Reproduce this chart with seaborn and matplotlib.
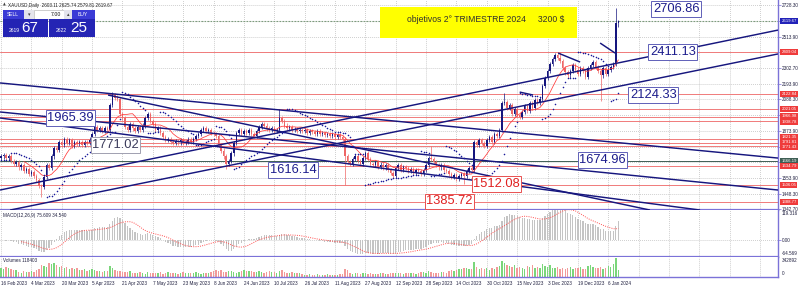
import numpy as np
import pandas as pd
import matplotlib
matplotlib.use("Agg")
import matplotlib.pyplot as plt
import matplotlib.transforms as mtransforms
from matplotlib.patches import Rectangle
import seaborn as sns

# ---------------- data ----------------
closes = [
    1700, 1712, 1690, 1705, 1668,
    1650, 1660, 1625, 1640, 1600, 1615, 1580, 1595,
    1570, 1540, 1500, 1490,
    1560, 1640,
    1620, 1700, 1760, 1745,
    1800, 1780, 1820, 1790, 1810, 1770, 1800, 1785,
    1795, 1775, 1800, 1790, 1815,
    1850, 1900, 1880, 1895,
    1870, 1890, 1880,
    2050, 2120,
    2100, 2090,
    1990,
    1960, 1900, 1880, 1920, 1890, 1870, 1900, 1880,
    1910, 1960, 1990, 1940, 1920, 1880, 1890, 1860,
    1830, 1810, 1820, 1800, 1790, 1805, 1795, 1810, 1790, 1800, 1815, 1800, 1820, 1840, 1850, 1880,
    1890, 1870, 1880, 1860, 1850, 1840,
    1780, 1740, 1700, 1650, 1670,
    1720, 1790, 1860, 1880,
    1850, 1870, 1860, 1880, 1850, 1840, 1870,
    1900, 1920, 1910, 1890,
    1880, 1895, 1870, 1880,
    1960, 1940,
    1910, 1890, 1900, 1880, 1885, 1870, 1880,
    1875, 1880, 1860, 1870, 1865, 1855, 1870, 1850, 1860, 1845, 1850, 1840, 1850, 1835, 1845, 1830, 1820,
    1700, 1660,
    1650, 1680, 1700, 1670, 1650, 1690, 1720, 1680, 1650, 1640, 1660, 1630, 1645, 1625, 1640, 1610, 1590, 1570,
    1620, 1640, 1610, 1630, 1620, 1600, 1615, 1590, 1605, 1600, 1580, 1610, 1640,
    1690, 1680, 1660,
    1640, 1625, 1640, 1610, 1600,
    1580, 1560, 1575, 1550, 1565, 1580, 1570, 1600,
    1620, 1610,
    1800,
    1780, 1810, 1790, 1770, 1810, 1830, 1800, 1850, 1840, 1880,
    2060, 2070,
    2030, 2050, 1990, 2020, 1980, 1970, 2000,
    2040, 2010, 2060, 2030, 2080, 2060, 2090, 2180,
    2230, 2280, 2330, 2360,
    2390, 2370, 2350,
    2300, 2270, 2250, 2280,
    2320, 2290, 2260, 2300, 2280, 2240, 2300, 2320,
    2340, 2310,
    2280, 2250, 2300, 2260, 2290, 2310,
    2330,
    2603.11,
    2619.67,
]
first_open = 1690.0
wick_default = 14.0
high_override = {44: 2135, 110: 2025, 170: 1770, 199: 2130, 221: 2411.13,
                 243: 2706.86, 244: 2625.74}
low_override = {16: 1425, 89: 1616.14, 136: 1506, 183: 1512.08, 237: 2075,
                244: 2579.81}

volumes_k = [
    170, 150, 180, 160, 140, 120, 130,
    90, 80, 100, 85, 95, 110, 90, 120, 140,
    220, 200, 180, 250, 230, 260, 210, 190,
    200, 170, 190, 150, 160, 140, 170, 130,
    120, 140, 110, 130, 150, 120, 100, 110,
    90, 110, 100, 200, 160, 130, 110, 100, 90, 95, 85, 100,
    70, 80, 65, 90, 75, 60, 85, 70, 80, 65, 75, 90, 60, 70, 85, 65, 80, 70, 60, 75, 90, 70, 65, 80, 75, 85, 70, 60,
    80, 75, 70, 90, 110, 120, 100, 130, 95, 85, 110, 100, 90, 80, 95, 105,
    120, 110, 100, 115, 95, 90, 100, 85, 80, 90, 110, 95, 85, 80, 100, 120, 90, 80, 75, 85, 70, 80, 75,
    50, 45, 40, 55, 45, 40, 50, 35, 45, 40, 50, 45, 40, 35, 45, 50, 60,
    150, 120,
    80, 60, 75, 70, 55, 65, 80, 60, 70, 55, 60, 50, 65, 70, 55, 60, 75, 80,
    70, 65, 75, 60, 80, 70, 65, 75, 60, 70, 85, 90, 80, 110, 95, 80, 75, 70, 85, 90, 80,
    100, 120, 110, 130, 150, 140, 160, 170, 150, 140,
    270,
    180, 150, 160, 140, 170, 130, 160, 150, 180, 200,
    290, 260,
    220, 200, 180, 210, 160, 190, 170, 150, 200, 180, 210, 170, 190, 160, 230,
    200, 190, 210, 170, 160, 180, 150, 170, 140, 160, 180,
    150, 170, 160, 190, 140, 150, 200, 210, 180, 170, 160, 190, 150, 170, 200, 180,
    230, 342.892, 118.403,
]

date_labels = ["16 Feb 2023", "4 Mar 2023", "20 Mar 2023", "5 Apr 2023", "21 Apr 2023",
               "7 May 2023", "23 May 2023", "8 Jun 2023", "24 Jun 2023", "10 Jul 2023",
               "26 Jul 2023", "11 Aug 2023", "27 Aug 2023", "12 Sep 2023", "28 Sep 2023",
               "14 Oct 2023", "30 Oct 2023", "15 Nov 2023", "3 Dec 2023", "19 Dec 2023",
               "6 Jan 2024"]

price_grid = [2728.30, 2621.10, 2513.90, 2408.30, 2302.70, 2193.90, 2088.30, 1981.10,
              1873.90, 1767.20, 1660.50, 1553.90, 1448.30, 1342.70]
price_grid_labels = ["2728.30", "", "2513.90", "", "2302.70", "2193.90", "2088.30", "",
                     "1873.90", "", "", "1553.90", "1448.30", "1342.70"]

level_prices = [2409.04, 2122.84, 2021.05, 1966.98, 1938.78, 1821.35, 1791.81, 1771.43,
                1666.19, 1634.79, 1506.05, 1388.77]
level_kinds = ["r", "r", "r", "r", "r", "r", "r", "r", "g", "r", "r", "r"]
# where each right-hand tag sits (nudged apart where the levels crowd)
level_tag_prices = [2409.04, 2122.84, 2021.05, 1972.0, 1934.0, 1830.0, 1797.0, 1764.0,
                    1666.19, 1634.79, 1506.05, 1388.77]
current_price = 2619.67

# trend lines: (bar0, price0, bar1, price1)
trend_lines = [
    (-0.4, 1472, 307.1, 2558),
    (3.6, 1336, 307.1, 2396),
    (-0.4, 2199, 307.1, 1689),
    (-0.4, 2002, 307.1, 1472),
    (42.3, 2117, 256.5, 1336),
    (-0.4, 1961, 276.3, 1336),
    (220.2, 2402, 228.9, 2341),
    (236.8, 2470, 242.7, 2402),
    (205.0, 2137, 210.3, 2117),
]

price_labels = ["2706.86", "2411.13", "2124.33", "1965.39", "1771.02", "1616.14",
                "1674.96", "1512.08", "1385.72"]
price_label_bar = [257.7, 256.5, 248.6, 18.2, 36.0, 106.3, 228.5, 186.6, 168.0]
price_label_price = [2701, 2409, 2117, 1961, 1778, 1608, 1676, 1513, 1397]
price_label_kind = ["b", "b", "b", "b", "k", "b", "b", "r", "r"]

target_box = (149.8, 227.7, 2504.2, 2714.7)   # bar0, bar1, price0, price1
target_text_pos = (160.5, 2633.2)
target_text = "objetivos 2° TRIMESTRE 2024     3200 $"

macd_top, macd_bottom = 119.316, -64.569
vol_top = 342892

# ---------------- derived series ----------------
n = len(closes)
bars = np.arange(n)
c = np.array(closes, dtype=float)
o = np.concatenate([[first_open], c[:-1]])
h = np.maximum(o, c) + wick_default
l = np.minimum(o, c) - wick_default
for k, v in high_override.items():
    h[k] = v
for k, v in low_override.items():
    l[k] = v
up = c >= o

ma = pd.Series(c).rolling(10).mean().values

def psar(high, low, af0=0.02, afmax=0.2):
    m = len(high)
    s = np.zeros(m)
    bull = True
    af = af0
    ep = high[0]
    s[0] = low[0]
    for i in range(1, m):
        prev = s[i - 1]
        val = prev + af * (ep - prev)
        if bull:
            val = min(val, low[i - 1], low[max(i - 2, 0)])
            if low[i] < val:
                bull = False
                val = ep
                ep = low[i]
                af = af0
            elif high[i] > ep:
                ep = high[i]
                af = min(af + af0, afmax)
        else:
            val = max(val, high[i - 1], high[max(i - 2, 0)])
            if high[i] > val:
                bull = True
                val = ep
                ep = high[i]
                af = af0
            elif low[i] < ep:
                ep = low[i]
                af = min(af + af0, afmax)
        s[i] = val
    return s

sar = psar(h, l)
cs = pd.Series(c)
macd = (cs.ewm(span=12, adjust=False).mean() - cs.ewm(span=26, adjust=False).mean()).values
signal = pd.Series(macd).rolling(9).mean().values
vol = np.array(volumes_k[:n], dtype=float) * 1000

# ---------------- figure ----------------
sns.set_style("white")
plt.rcParams["font.family"] = ["Liberation Sans", "DejaVu Sans"]

W, H = 800, 288
fig = plt.figure(figsize=(8, 2.88), dpi=100, facecolor="white")
fx = lambda x: x / W
fy = lambda y: 1 - y / H

PURPLE = "#7b72d8"
NAVY = "#16167e"
GRID = "#b4b4b4"
TXT = "#202040"
RED_LINE = "#f07a7a"
RED_BOX = "#ef3b3b"

ax = fig.add_axes([0, fy(210), 778 / W, 210 / H])
axm = fig.add_axes([0, fy(257), 778 / W, 47 / H], sharex=ax)
axv = fig.add_axes([0, fy(277), 778 / W, 20 / H], sharex=ax)

for a in (ax, axm, axv):
    a.set_facecolor("white")
    for s in ("left", "top"):
        a.spines[s].set_visible(False)
    a.spines["right"].set_color(PURPLE)
    a.spines["right"].set_linewidth(1.0)
    a.spines["bottom"].set_color(PURPLE)
    a.spines["bottom"].set_linewidth(1.6)
    a.set_axisbelow(True)
    a.grid(axis="x", color=GRID, ls=(0, (1, 1.6)), lw=0.55)
axv.spines["bottom"].set_linewidth(1.0)

ax.set_xlim(-0.4, 307.1)
ax.set_xticks(np.arange(0, 307, 12))
ax.set_ylim(1336.35, 2762.25)

# main price axis (right)
ax.yaxis.tick_right()
ax.set_yticks(price_grid)
ax.set_yticklabels(price_grid_labels)
ax.tick_params(axis="y", length=2, width=0.5, pad=1, labelsize=3.3, color=PURPLE, labelcolor=TXT)
ax.grid(axis="y", color=GRID, ls=(0, (1, 1.6)), lw=0.55)
ax.tick_params(axis="x", bottom=False, labelbottom=False)
axm.tick_params(axis="x", bottom=False, labelbottom=False)

# level lines
for p, kd in zip(level_prices, level_kinds):
    col = RED_LINE if kd == "r" else "#3f5f55"
    ax.axhline(p, color=col, lw=0.7, zorder=1.5)
ax.axhline(current_price, color="#7d9c7d", lw=0.8, ls=(0, (1.5, 1.2)), zorder=1.5)

# candles
bear = "#ee6666"
ccol = np.where(up, NAVY, bear)
ax.vlines(bars, l, h, colors=ccol, lw=0.5, zorder=2)
body_lo = np.minimum(o, c)
body_h = np.maximum(np.abs(c - o), 2.0)
ax.bar(bars, body_h, bottom=body_lo, width=0.6, color=ccol, lw=0, zorder=2.1)

# moving average
sns.lineplot(x=bars, y=ma, ax=ax, color="#ff3a3a", lw=0.55, zorder=2.5, legend=False)

# parabolic SAR
sns.scatterplot(x=bars, y=sar, ax=ax, color="#1a1a9a", s=1.3, linewidth=0, zorder=3.5, legend=False)

# trend lines
for b0, p0, b1, p1 in trend_lines:
    ax.plot([b0, b1], [p0, p1], color=NAVY, lw=1.05, zorder=3, solid_capstyle="butt")

# target box
tb0, tb1, tp0, tp1 = target_box
ax.add_patch(Rectangle((tb0, tp0), tb1 - tb0, tp1 - tp0, fc="#ffff00", ec="none", zorder=4))
ax.text(target_text_pos[0], target_text_pos[1], target_text, fontsize=6.2, color="#303030",
        ha="left", va="center", zorder=5)

# price label objects
for txt, b, p, kd in zip(price_labels, price_label_bar, price_label_price, price_label_kind):
    if kd == "r":
        tc, ec = "#e02020", "#e85050"
    elif kd == "k":
        tc, ec = "#3a3a5a", "#a0a0b0"
    else:
        tc, ec = "#1c1c8c", "#6060b8"
    ax.text(b, p, txt, fontsize=9.3, color=tc, ha="left", va="center", zorder=6,
            bbox=dict(boxstyle="square,pad=0.12", fc="white", ec=ec, lw=0.7))

# right side coloured level tags
trans = mtransforms.blended_transform_factory(ax.transAxes, ax.transData)
for p, tp, kd in zip(level_prices, level_tag_prices, level_kinds):
    fc = RED_BOX if kd == "r" else "#3f5f55"
    ax.text(1.0045, tp, f"{p:.2f}", transform=trans, fontsize=3.1, color="white",
            ha="left", va="center", clip_on=False, zorder=7,
            bbox=dict(boxstyle="square,pad=0.25", fc=fc, ec="none"))
ax.text(1.0045, current_price, f"{current_price:.2f}", transform=trans, fontsize=3.1,
        color="white", ha="left", va="center", clip_on=False, zorder=7,
        bbox=dict(boxstyle="square,pad=0.25", fc="#2222b8", ec="none"))

# ---------------- MACD panel ----------------
axm.set_ylim(macd_bottom, macd_top)
axm.bar(bars, macd, width=0.5, color="#c4c4c4", lw=0, zorder=2)
sns.lineplot(x=bars, y=signal, ax=axm, color="#ff5050", lw=0.7, zorder=3, legend=False)
axm.lines[-1].set_linestyle((0, (1, 1.3)))
axm.yaxis.tick_right()
axm.set_yticks([0])
axm.set_yticklabels(["0.00"])
axm.tick_params(axis="y", length=2, width=0.5, pad=1, labelsize=3.3, color=PURPLE, labelcolor=TXT)
axm.grid(axis="y", color=GRID, ls=(0, (1, 1.6)), lw=0.55)
tm = axm.transAxes
axm.text(1.0045, 0.985, f"{macd_top:.3f}", transform=tm, fontsize=3.3, color=TXT, ha="left", va="top")
axm.text(1.0045, 0.03, f"{macd_bottom:.3f}", transform=tm, fontsize=3.3, color=TXT, ha="left", va="bottom")
axm.text(0.004, 0.93, "MACD(12,26,9) 75.609 34.540", transform=tm, fontsize=3.3, color=TXT,
         ha="left", va="top")

# ---------------- Volume panel ----------------
axv.set_ylim(0, vol_top * 1.06)
vcol = np.where(up, "#7bd67b", "#f29a9a")
axv.bar(bars, vol, width=0.55, color=vcol, lw=0, zorder=2)
axv.set_yticks([])
tv = axv.transAxes
axv.text(1.0045, 0.97, f"{vol_top}", transform=tv, fontsize=3.3, color=TXT, ha="left", va="top")
axv.text(1.0045, 0.05, "0", transform=tv, fontsize=3.3, color=TXT, ha="left", va="bottom")
axv.text(0.004, 0.93, "Volumes 118403", transform=tv, fontsize=3.3, color=TXT, ha="left", va="top")

ticks = np.arange(0, 307, 12)
axv.set_xticks(ticks)
axv.set_xticklabels(date_labels + [""] * (len(ticks) - len(date_labels)))
axv.tick_params(axis="x", length=2, width=0.5, pad=1, labelsize=3.3, color=PURPLE, labelcolor=TXT)
for lb in axv.get_xticklabels():
    lb.set_ha("left")

# ---------------- header / one-click panel ----------------
fig.text(fx(3), fy(5), "▲", fontsize=2.6, color="#404040", ha="left", va="center",
         family=["DejaVu Sans"])
fig.text(fx(8), fy(5), "XAUUSD,Daily  2603.11 2625.74 2579.81 2619.67", fontsize=3.3,
         color="#202020", ha="left", va="center")

def frect(x0, y0, x1, y1, fc, ec="none", lw=0):
    fig.add_artist(Rectangle((fx(x0), fy(y1)), (x1 - x0) / W, (y1 - y0) / H,
                             transform=fig.transFigure, fc=fc, ec=ec, lw=lw, zorder=5))

frect(3, 10, 24, 19, "#3b3bd6")
frect(24, 10, 34, 19, "#e4e4ec")
frect(34, 10, 64, 19, "white", ec="#a8a8a8", lw=0.4)
frect(64, 10, 72, 19, "#e4e4ec")
frect(72, 10, 95, 19, "#3b3bd6")
frect(3, 19, 48, 37, "#2424b4")
frect(49, 19, 95, 37, "#2424b4")

def ftext(x, y, s, size, col, ha="left", fam=None):
    kw = {}
    if fam:
        kw["family"] = fam
    fig.text(fx(x), fy(y), s, fontsize=size, color=col, ha=ha, va="center", zorder=6, **kw)

ftext(7, 14.5, "SELL", 3.6, "white")
ftext(78, 14.5, "BUY", 3.6, "white")
ftext(29, 14.5, "▾", 3.6, "#404040", ha="center", fam=["DejaVu Sans"])
ftext(68, 14.5, "▴", 3.6, "#404040", ha="center", fam=["DejaVu Sans"])
ftext(61, 14.5, "7.00", 3.8, "#101010", ha="right")
ftext(9, 31, "2619", 3.6, "white")
ftext(21, 28, "67", 11, "white")
ftext(56, 31, "2622", 3.6, "white")
ftext(70, 28, "25", 11, "white")

fig.savefig("out.png", dpi=100, facecolor="white")
